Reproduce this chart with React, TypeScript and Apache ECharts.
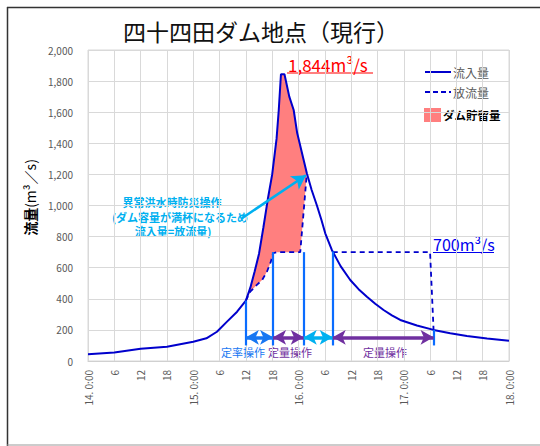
import React, { useEffect, useRef } from 'react';
import * as echarts from 'echarts';

const FONT = '"Noto Sans CJK JP", "Noto Sans", sans-serif';

// x tick labels (every 6 hours, 14th 0:00 .. 18th 0:00)
const xTickLabels = [
  '14. 0:00', '6', '12', '18',
  '15. 0:00', '6', '12', '18',
  '16. 0:00', '6', '12', '18',
  '17. 0:00', '6', '12', '18',
  '18. 0:00',
];

// inflow (hours from 14th 0:00, m3/s)
const inflowHours = [0, 6, 12, 18, 24, 27, 29.4, 31.7, 34, 36, 37, 38, 39, 40, 41, 42, 43, 43.5, 44, 44.8,
  45.9, 46.9, 47.7, 49.9, 51, 52.2, 53.2, 54.1, 55.6, 57.6, 59.8, 61.7, 63.6, 65.5, 67.4, 69.3, 71.2, 75,
  78.8, 82.6, 86.4, 91, 96];
const inflowValues = [43, 54, 79, 92, 124, 146, 188, 253, 317, 388, 470, 575, 690, 860, 1040, 1200, 1430, 1614, 1844, 1844,
  1700, 1614, 1466, 1207, 1100, 1000, 910, 821, 714, 610, 521, 462, 413, 368, 328, 294, 264, 228,
  200, 178, 161, 145, 130];

// outflow where it differs from inflow (dashed)
const outflowAHours = [36, 37, 38.5, 39.7, 40.8, 41.7, 42.2, 43, 48.4, 49.9];
const outflowAValues = [388, 446, 489, 521, 574, 639, 693, 700, 700, 1207];
const outflowBHours = [55.8, 78, 78.8];
const outflowBValues = [700, 700, 200];

// operation marker lines
const markerHours = [36, 42.2, 49.2, 55.8, 78.8];
const markerTops = [388, 700, 700, 705, 200];
const markerBottom = 100;

// operation arrows
const opStart = [36, 42.2, 49.2, 55.8];
const opEnd = [42.2, 49.2, 55.8, 78.8];
const opColors = ['#1877F2', '#7030A0', '#00B0F0', '#7030A0'];
const opLevel = 152;

// callout arrow
const calloutFrom = [35.1, 918];
const calloutTo = [49.7, 1195];

export default function App() {
  const ref = useRef<HTMLDivElement>(null);
  useEffect(() => {
    const chart = echarts.init(ref.current!, null, { renderer: 'svg' });
    const inflow = inflowHours.map((h, i) => [h, inflowValues[i]]);
    const outA = outflowAHours.map((h, i) => [h, outflowAValues[i]]);
    const outB = outflowBHours.map((h, i) => [h, outflowBValues[i]]);
    const fillStart = outflowAHours[0];
    const fillEnd = outflowAHours[outflowAHours.length - 1];
    const fillPts = inflow
      .filter((p) => p[0] >= fillStart && p[0] <= fillEnd)
      .concat(outA.slice().reverse());

    const markLines: any[] = [];
    markerHours.forEach((h, i) => {
      markLines.push([
        { coord: [h, markerTops[i]], symbol: 'none', lineStyle: { color: '#0A6CFF', width: 2.2, type: 'solid' } },
        { coord: [h, markerBottom], symbol: 'none' },
      ]);
    });
    opStart.forEach((s, i) => {
      markLines.push([
        {
          coord: [s, opLevel], symbol: 'arrow', symbolSize: [11, 13],
          lineStyle: { color: opColors[i], width: 3.5, type: 'solid' },
          itemStyle: { color: opColors[i] },
        },
        { coord: [opEnd[i], opLevel], symbol: 'arrow', symbolSize: [11, 13] },
      ]);
    });
    markLines.push([
      {
        coord: calloutFrom, symbol: 'none',
        lineStyle: { color: '#00B0F0', width: 2.5, type: 'solid' },
        itemStyle: { color: '#00B0F0' },
      },
      { coord: calloutTo, symbol: 'arrow', symbolSize: [12, 14] },
    ]);

    const txt = (x: number, y: number, text: string, size: number, fill: string, extra: any = {}) => ({
      type: 'text', x, y, silent: true,
      style: { text, fontSize: size, fontFamily: FONT, fill, verticalAlign: 'middle', align: 'left', ...extra },
    });

    const option: any = {
      animation: false,
      backgroundColor: '#ffffff',
      textStyle: { fontFamily: FONT },
      title: {
        text: '四十四田ダム地点（現行）',
        left: 118, top: 14,
        textStyle: { fontSize: 23, fontWeight: 'normal', color: '#111', fontFamily: FONT },
      },
      grid: { left: 88, right: 31, top: 50, bottom: 85, show: true, borderColor: '#D9D9D9', borderWidth: 1 },
      xAxis: {
        type: 'value', min: 0, max: 96, interval: 6,
        axisLine: { show: true, lineStyle: { color: '#D0D0D0' } },
        axisTick: { show: false },
        splitLine: { show: true, lineStyle: { color: '#D9D9D9', width: 1 } },
        axisLabel: {
          rotate: 90, fontSize: 10, color: '#595959', margin: 9, fontFamily: FONT,
          formatter: (v: number) => xTickLabels[Math.round(v / 6)] ?? '',
        },
      },
      yAxis: {
        type: 'value', min: 0, max: 2000, interval: 200,
        name: '{a|流量}{b|(m³／s)}',
        nameLocation: 'middle', nameGap: 47, nameRotate: 90,
        nameTextStyle: {
          padding: [0, 0, 0, 16],
          rich: {
            a: { fontSize: 14, fontWeight: 'bold', color: '#000', fontFamily: FONT },
            b: { fontSize: 14, color: '#000', fontFamily: FONT },
          },
        },
        axisLine: { show: false },
        axisTick: { show: false },
        splitLine: { show: true, lineStyle: { color: '#D9D9D9', width: 1 } },
        axisLabel: {
          fontSize: 10, color: '#595959', margin: 15, fontFamily: FONT,
          formatter: (v: number) => v.toLocaleString('en-US'),
        },
      },
      series: [
        {
          name: 'ダム貯留量',
          type: 'custom',
          z: 1,
          data: [[0, 0]],
          renderItem: (params: any, api: any) => {
            if (params.dataIndex !== 0) return null;
            const points = fillPts.map((p) => api.coord(p));
            return { type: 'polygon', shape: { points }, style: { fill: '#FF7F7F' } };
          },
        },
        {
          name: '放流量', type: 'line', z: 2, data: outA, showSymbol: false, symbol: 'none',
          lineStyle: { color: '#0000CC', width: 1.8, type: [5, 4] },
        },
        {
          name: '放流量', type: 'line', z: 2, data: outB, showSymbol: false, symbol: 'none',
          lineStyle: { color: '#0000CC', width: 1.8, type: [5, 4] },
        },
        {
          name: '流入量', type: 'line', z: 3, data: inflow, showSymbol: false, symbol: 'none',
          lineStyle: { color: '#0000CC', width: 2 },
          markLine: { silent: true, animation: false, label: { show: false }, data: markLines },
        },
      ],
      graphic: [
        // frame
        { type: 'line', shape: { x1: 7, y1: 7.5, x2: 540, y2: 7.5 }, style: { stroke: '#333', lineWidth: 1.5 }, silent: true },
        { type: 'line', shape: { x1: 7.5, y1: 7, x2: 7.5, y2: 446 }, style: { stroke: '#333', lineWidth: 1.5 }, silent: true },
        { type: 'line', shape: { x1: 7, y1: 445, x2: 540, y2: 445 }, style: { stroke: '#999', lineWidth: 1 }, silent: true },
        // legend
        { type: 'line', shape: { x1: 425, y1: 72, x2: 451, y2: 72 }, style: { stroke: '#0000CC', lineWidth: 2 }, silent: true },
        txt(453, 72, '流入量', 12, '#595959'),
        { type: 'line', shape: { x1: 425, y1: 92, x2: 451, y2: 92 }, style: { stroke: '#0000CC', lineWidth: 1.8, lineDash: [5, 3] }, silent: true },
        txt(453, 92, '放流量', 12, '#595959'),
        { type: 'rect', shape: { x: 424, y: 108, width: 17, height: 14 }, style: { fill: '#FF7F7F' }, silent: true },
        txt(443, 115, 'ダム貯留量', 11.5, '#000', { fontWeight: 'bold' }),
        // peak annotation
        txt(288, 64, '1,844m³/s', 17, '#FF0000'),
        { type: 'line', shape: { x1: 287, y1: 73, x2: 373, y2: 73 }, style: { stroke: '#FF0000', lineWidth: 1.2 }, silent: true },
        // 700 annotation
        txt(433, 244, '700m³/s', 16, '#0000EE'),
        { type: 'line', shape: { x1: 433, y1: 252.5, x2: 494, y2: 252.5 }, style: { stroke: '#0000EE', lineWidth: 1.2 }, silent: true },
        // callout text
        txt(172, 202, '異常洪水時防災操作', 11, '#00B0F0', { align: 'center', fontWeight: 'bold' }),
        txt(180, 216.5, '(ダム容量が満杯になるため', 11, '#00B0F0', { align: 'center', fontWeight: 'bold' }),
        txt(173, 231, '流入量=放流量)', 11, '#00B0F0', { align: 'center', fontWeight: 'bold' }),
        // operation labels
        txt(243, 352, '定率操作', 11, '#1877F2', { align: 'center' }),
        txt(290, 352, '定量操作', 11, '#7030A0', { align: 'center' }),
        txt(385, 352, '定量操作', 11, '#7030A0', { align: 'center' }),
      ],
    };
    chart.setOption(option);
    return () => chart.dispose();
  }, []);
  return (
    <div
      ref={ref}
      style={{ position: 'absolute', left: 0, top: 0, width: 540, height: 446, background: '#fff' }}
    />
  );
}
